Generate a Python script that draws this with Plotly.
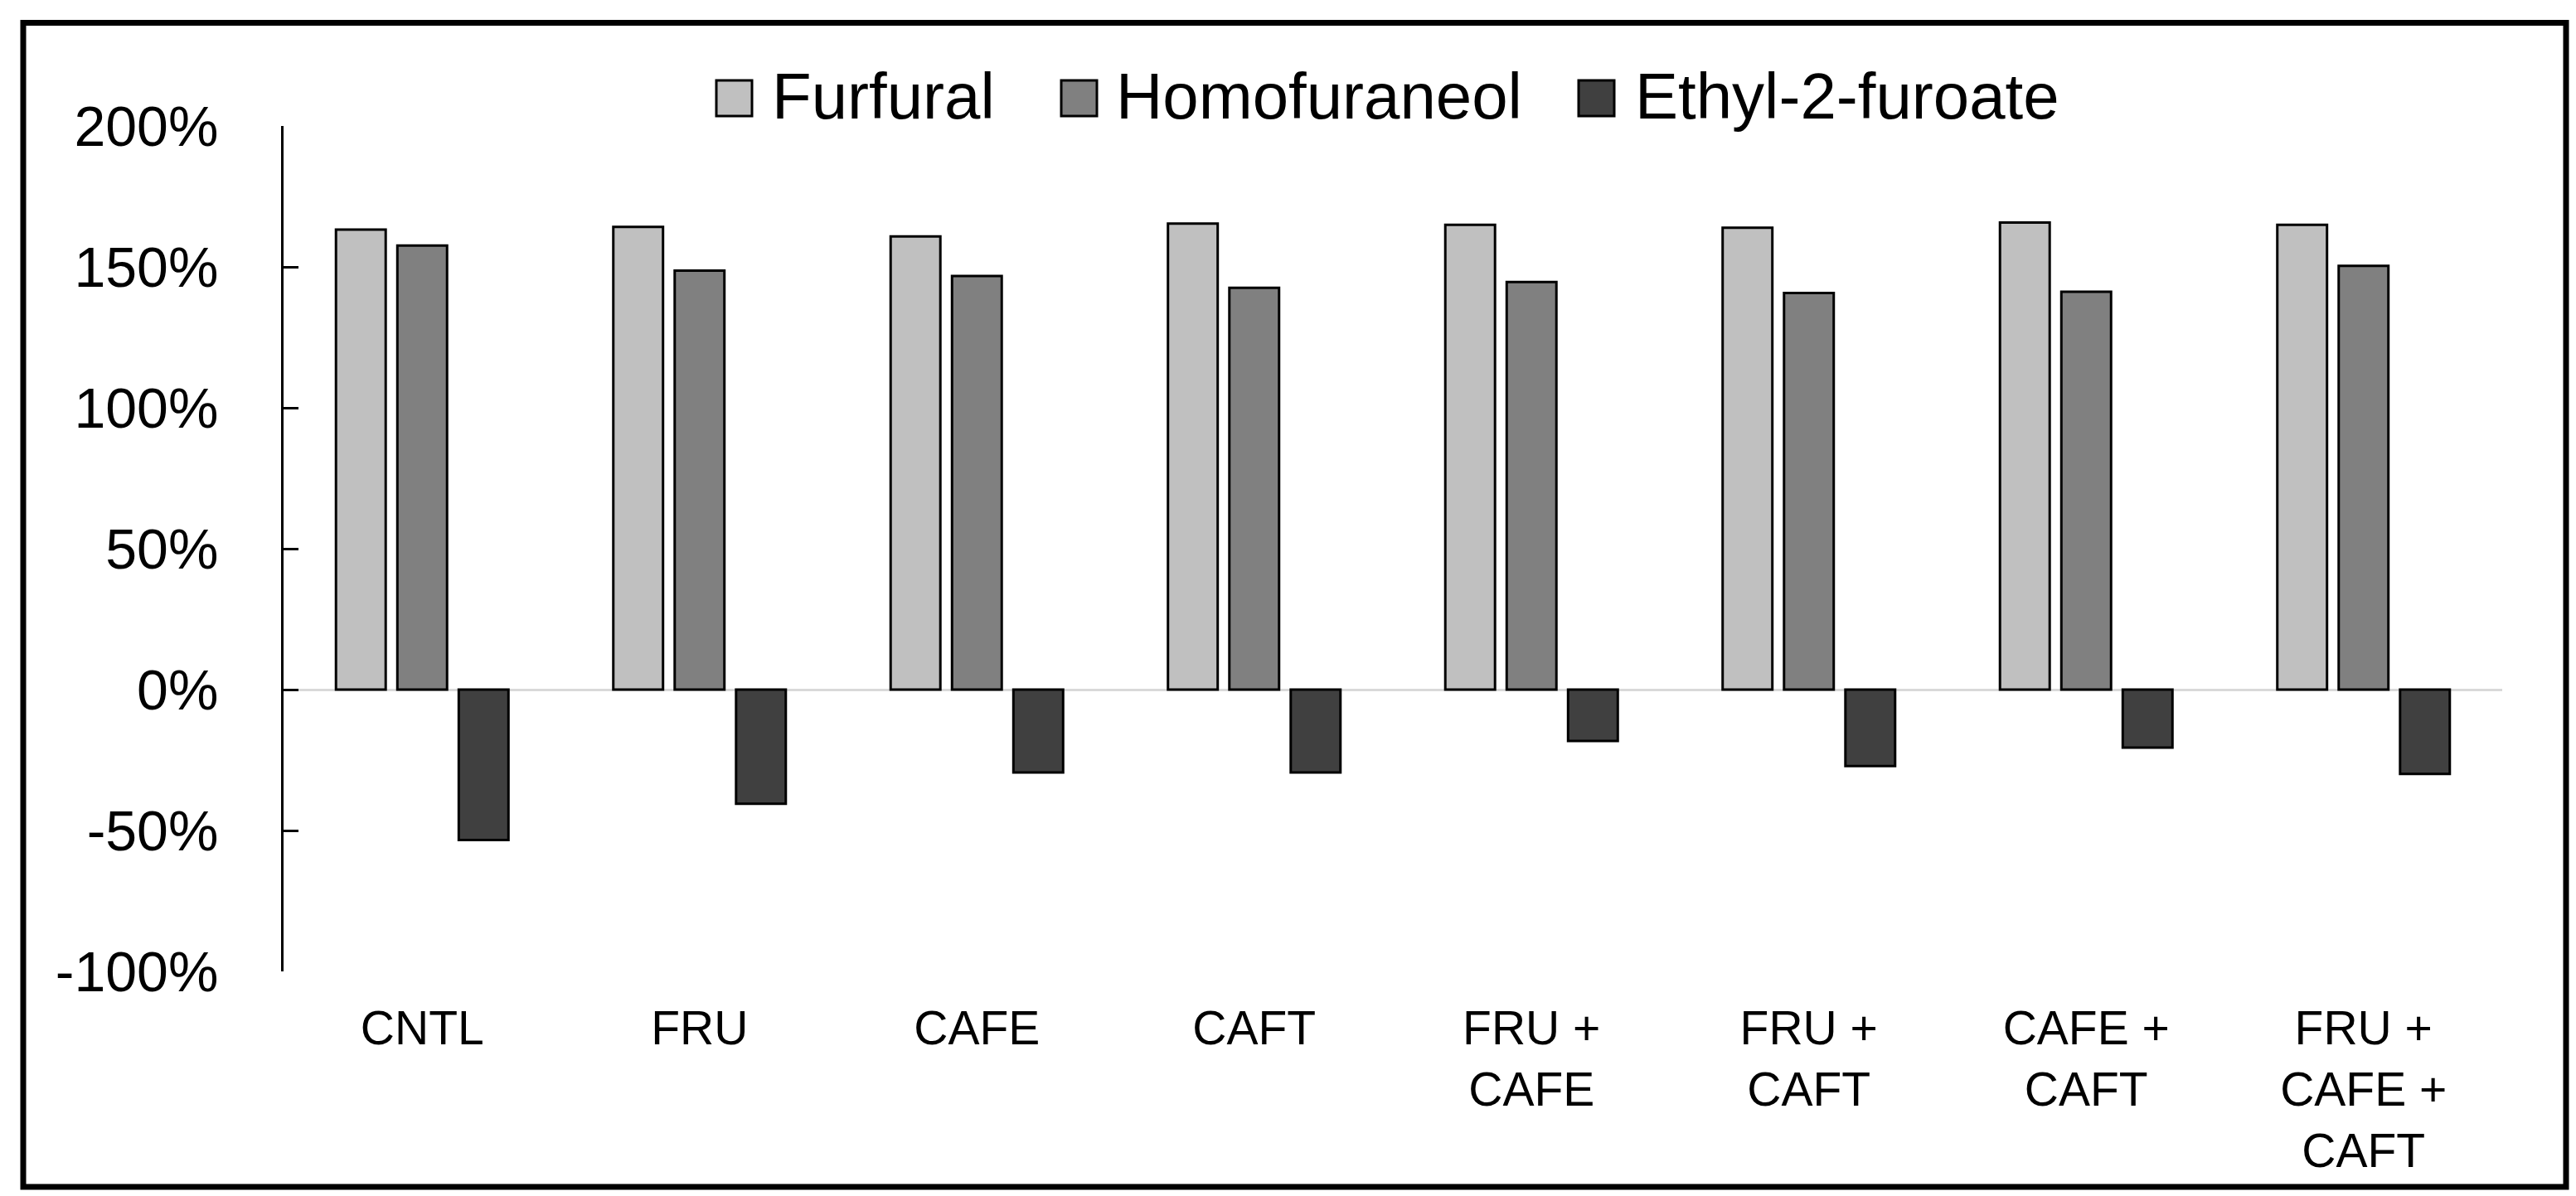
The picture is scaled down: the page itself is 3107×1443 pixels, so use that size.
import plotly.graph_objects as go

# Data (values in %)
categories = ["CNTL", "FRU", "CAFE", "CAFT",
              "FRU +<br>CAFE", "FRU +<br>CAFT", "CAFE +<br>CAFT",
              "FRU +<br>CAFE +<br>CAFT"]
furfural = [163.2, 164.2, 160.8, 165.4, 164.9, 163.9, 165.7, 164.9]
homofuraneol = [157.6, 148.7, 146.8, 142.6, 144.6, 140.7, 141.2, 150.4]
ethyl_2_furoate = [-53.4, -40.5, -29.4, -29.4, -18.2, -27.1, -20.6, -29.9]

series_names = ["Furfural", "Homofuraneol", "Ethyl-2-furoate"]
series_colors = ["#c0c0c0", "#808080", "#404040"]

y_tickvals = [-100, -50, 0, 50, 100, 150, 200]
y_ticktext = ["-100%", "-50%", "0%", "50%", "100%", "150%", "200%"]

FONT = "Liberation Sans, Arial, sans-serif"
W, H = 3107, 1443
# plot area in pixels
PL, PR, PT, PB = 334, 3010, 144, 1164


def px(x):
    return (x - PL) / (PR - PL)


def py(y):
    return (PB - y) / (PB - PT)


fig = go.Figure()

for name, vals, col in zip(series_names, [furfural, homofuraneol, ethyl_2_furoate], series_colors):
    fig.add_trace(go.Bar(x=categories, y=vals, name=name,
                         marker=dict(color=col, line=dict(color="black", width=3)),
                         showlegend=False))

# outer frame
fig.add_shape(type="rect", xref="paper", yref="paper",
              x0=px(20), x1=px(3087), y0=py(1424), y1=py(19.5),
              line=dict(color="black", width=7), fillcolor="rgba(0,0,0,0)")

# hand drawn legend (large swatches like the original)
legend_swatch_x = [856, 1272, 1896]
legend_text_x = [921, 1336, 1962]
for name, col, sx, tx in zip(series_names, series_colors, legend_swatch_x, legend_text_x):
    fig.add_shape(type="rect", xref="paper", yref="paper",
                  x0=px(sx), x1=px(sx + 43), y0=py(132), y1=py(89),
                  fillcolor=col, line=dict(color="black", width=3))
    fig.add_annotation(xref="paper", yref="paper", x=px(tx), y=py(108),
                       text=name, showarrow=False, xanchor="left", yanchor="middle",
                       font=dict(family=FONT, size=78, color="black"))

fig.update_layout(
    width=W, height=H, autosize=False,
    margin=dict(l=PL, r=W - PR, t=PT, b=H - PB, pad=0),
    paper_bgcolor="white", plot_bgcolor="white",
    barmode="group", bargap=0.336, bargroupgap=0.19,
    showlegend=False,
    font=dict(family=FONT, color="black"),
    xaxis=dict(showline=False, showgrid=False, zeroline=False, ticks="",
               tickfont=dict(family=FONT, size=57, color="black"),
               ticklabelstandoff=30),
    yaxis=dict(range=[-100, 200], tickvals=y_tickvals, ticktext=y_ticktext,
               showline=True, linecolor="black", linewidth=3,
               ticks="inside", ticklen=18, tickwidth=3, tickcolor="black",
               showgrid=False, zeroline=True, zerolinecolor="#d9d9d9", zerolinewidth=3,
               tickfont=dict(family=FONT, size=68, color="black"),
               ticklabelstandoff=62),
)

fig.write_html("out.html")
